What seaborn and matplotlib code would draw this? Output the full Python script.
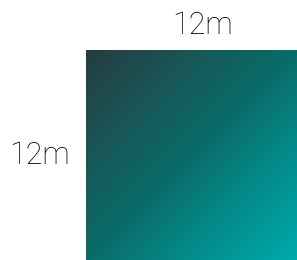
import numpy as np
import matplotlib.pyplot as plt
import seaborn as sns
from matplotlib.colors import LinearSegmentedColormap

# square dimensions (metres) and their labels
side_width = 12
side_height = 12
width_label = "12m"
height_label = "12m"

sns.set_theme(style="white")
plt.rcParams['font.family'] = ['Roboto', 'DejaVu Sans']

fig = plt.figure(figsize=(2.97, 2.60), dpi=100)
ax = fig.add_axes([0, 0, 1, 1])

# layout: square starts near the left, runs off the right/bottom edges
px_x = 234 / side_width
px_y = 210 / side_height

# diagonal gradient fill, dark top-left to teal bottom-right
cmap = LinearSegmentedColormap.from_list('teal', [
    (0.0, '#263c40'), (0.234, '#1a5556'), (0.462, '#0a6a68'),
    (0.682, '#048a88'), (0.903, '#00a5a8'), (1.0, '#00b0b2')])
n = 400
xs = np.linspace(0, side_width, n)
ys = np.linspace(side_height, 0, n)
xx, yy = np.meshgrid(xs, ys)
dist = xx * px_x + (side_height - yy) * px_y
grad = dist / (side_width * px_x + side_height * px_y)
ax.imshow(grad, cmap=cmap, vmin=0, vmax=1,
          extent=[0, side_width, 0, side_height],
          origin='upper', interpolation='bilinear', aspect='auto')

ax.set_xlim(-86 / px_x, (297 - 86) / px_x)
ax.set_ylim(0, side_height + 50 / px_y)

ax.text(side_width / 2, side_height + 24 / px_y, width_label,
        ha='center', va='center', fontsize=22, fontweight='light',
        color='#000000')
ax.text(-46 / px_x, side_height / 2, height_label,
        ha='center', va='center', fontsize=22, fontweight='light',
        color='#000000')

ax.axis('off')
fig.savefig('out.png', dpi=100)
